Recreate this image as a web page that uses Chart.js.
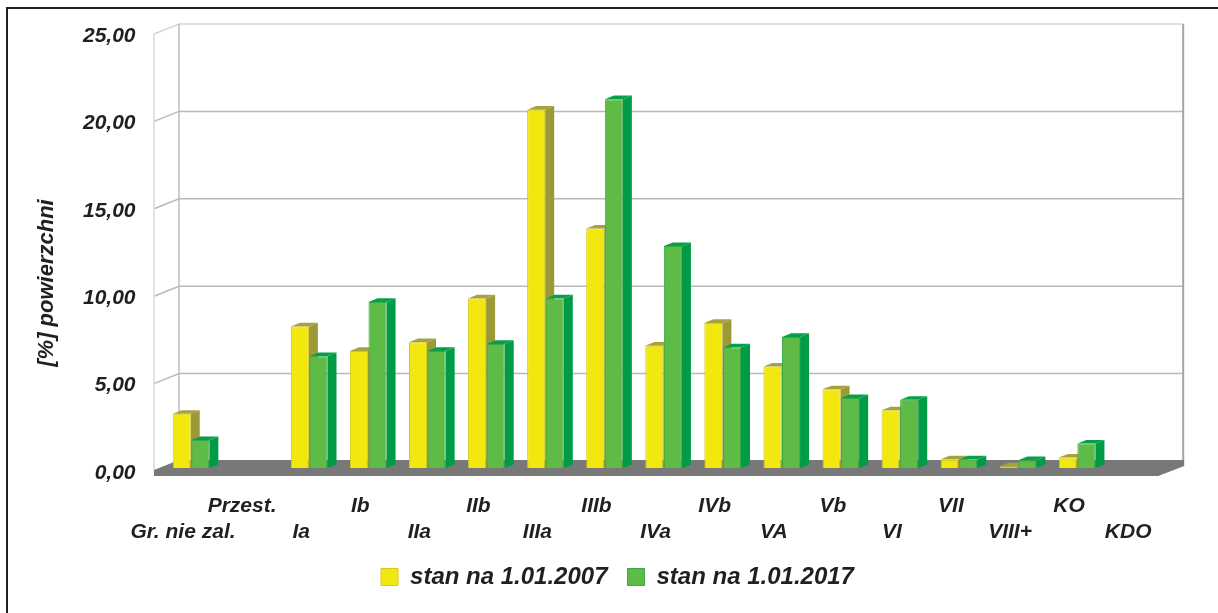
<!DOCTYPE html>
<html>
<head>
<meta charset="utf-8">
<script src="https://cdn.jsdelivr.net/npm/chart.js@4.4.1/dist/chart.umd.min.js"></script>
<style>
  html, body { margin: 0; padding: 0; background: #ffffff; }
  #wrap { width: 1218px; height: 613px; position: relative; }
  canvas { display: block; }
</style>
</head>
<body>
<div id="wrap"><canvas id="c" width="1218" height="613"></canvas></div>
<script>
// ---- data ----
const categories = ['Gr. nie zal.', 'Przest.', 'Ia', 'Ib', 'IIa', 'IIb', 'IIIa', 'IIIb', 'IVa', 'IVb', 'VA', 'Vb', 'VI', 'VII', 'VIII+', 'KO', 'KDO'];
const values2007 = [3.1, null, 8.1, 6.7, 7.2, 9.7, 20.5, 13.7, 7.0, 8.3, 5.8, 4.5, 3.3, 0.5, 0.1, 0.6, null];
const values2017 = [1.6, null, 6.4, 9.5, 6.7, 7.1, 9.7, 21.1, 12.7, 6.9, 7.5, 4.0, 3.9, 0.5, 0.45, 1.4, null];
const seriesNames = ['stan na 1.01.2007', 'stan na 1.01.2017'];
const yTicks = [0, 5, 10, 15, 20, 25];
const yTitle = '[%] powierzchni';

// ---- styles ----
const FONT = '"Liberation Sans", Arial, sans-serif';
const TEXT = '#231f20';
const frontColors = ['#f2e80f', '#5dbb46'];
const borderColors = ['#d4c81c', '#3aa846'];
const sideColors = ['#9c9a36', '#009b45'];
const topColors = ['#a7a23b', '#07a04a'];

// two-row staggered category labels
const xLabels = categories.map((c, i) => (i % 2 ? [c, ''] : ['', c]));

const DEPTH = { x: 25, y: -10 };
const BACK = { x: DEPTH.x * 0.7, y: DEPTH.y * 0.7 };
const FRONT = { x: -DEPTH.x * 0.3, y: -DEPTH.y * 0.3 };
const BAR_D = { x: 9, y: -3.6 };

function poly(ctx, pts) {
  ctx.beginPath();
  ctx.moveTo(pts[0][0], pts[0][1]);
  for (let i = 1; i < pts.length; i++) ctx.lineTo(pts[i][0], pts[i][1]);
  ctx.closePath();
  ctx.fill();
}

const threeD = {
  id: 'threeD',
  beforeDatasetsDraw(chart) {
    const { ctx, chartArea: { left, right, bottom }, scales: { y } } = chart;
    const topPx = y.getPixelForValue(yTicks[yTicks.length - 1]);
    ctx.save();
    // back wall gridlines + left wall diagonals
    ctx.lineWidth = 1.5;
    yTicks.forEach(v => {
      if (v === 0) return;
      const py = y.getPixelForValue(v);
      ctx.strokeStyle = v === yTicks[yTicks.length - 1] ? '#d6d6d6' : '#b9b9b9';
      ctx.beginPath();
      ctx.moveTo(left + FRONT.x, py + FRONT.y);
      ctx.lineTo(left + BACK.x, py + BACK.y);
      ctx.lineTo(right + BACK.x, py + BACK.y);
      ctx.stroke();
    });
    // verticals
    ctx.strokeStyle = '#dadada';
    ctx.beginPath();
    ctx.moveTo(left + FRONT.x, topPx + FRONT.y);
    ctx.lineTo(left + FRONT.x, bottom + FRONT.y);
    ctx.stroke();
    ctx.strokeStyle = '#bcbcbc';
    ctx.beginPath();
    ctx.moveTo(left + BACK.x, topPx + BACK.y);
    ctx.lineTo(left + BACK.x, bottom + BACK.y);
    ctx.stroke();
    ctx.strokeStyle = '#a4a4a4';
    ctx.lineWidth = 2;
    ctx.beginPath();
    ctx.moveTo(right + BACK.x, topPx + BACK.y);
    ctx.lineTo(right + BACK.x, bottom + BACK.y);
    ctx.stroke();
    // floor
    ctx.fillStyle = '#787878';
    poly(ctx, [
      [left + BACK.x, bottom + BACK.y - 1],
      [right + BACK.x + 1, bottom + BACK.y - 1],
      [right + BACK.x + 1, bottom + BACK.y + 5],
      [right + FRONT.x, bottom + FRONT.y + 5],
      [left + FRONT.x, bottom + FRONT.y + 5],
      [left + FRONT.x, bottom + FRONT.y - 1]
    ]);
    // bar sides and tops
    chart.data.datasets.forEach((ds, di) => {
      const meta = chart.getDatasetMeta(di);
      meta.data.forEach((bar, i) => {
        if (ds.data[i] == null) return;
        const p = bar.getProps(['x', 'y', 'base', 'width'], true);
        const l = p.x - p.width / 2, r = p.x + p.width / 2;
        ctx.fillStyle = sideColors[di];
        poly(ctx, [[r, p.y], [r + BAR_D.x, p.y + BAR_D.y], [r + BAR_D.x, p.base + BAR_D.y], [r, p.base]]);
        ctx.fillStyle = topColors[di];
        poly(ctx, [[l, p.y], [l + BAR_D.x, p.y + BAR_D.y], [r + BAR_D.x, p.y + BAR_D.y], [r, p.y]]);
      });
    });
    ctx.restore();
  },
  afterDraw(chart) {
    const { ctx } = chart;
    ctx.save();
    // frame
    ctx.strokeStyle = '#231f20';
    ctx.lineWidth = 2;
    ctx.beginPath();
    ctx.moveTo(7, 613);
    ctx.lineTo(7, 8);
    ctx.lineTo(1218, 8);
    ctx.stroke();
    // y title
    ctx.translate(47, 283);
    ctx.rotate(-Math.PI / 2);
    ctx.fillStyle = TEXT;
    ctx.font = 'italic bold 22px ' + FONT;
    ctx.textAlign = 'center';
    ctx.textBaseline = 'middle';
    ctx.fillText(yTitle, 0, 0);
    ctx.restore();
  }
};

new Chart(document.getElementById('c'), {
  type: 'bar',
  data: {
    labels: xLabels,
    datasets: [
      { label: seriesNames[0], data: values2007, backgroundColor: frontColors[0], borderColor: borderColors[0], borderWidth: 1 },
      { label: seriesNames[1], data: values2017, backgroundColor: frontColors[1], borderColor: borderColors[1], borderWidth: 1 }
    ]
  },
  options: {
    responsive: false,
    animation: false,
    devicePixelRatio: 1,
    layout: { padding: { left: 69.3, right: 52.3, top: 31, bottom: 14 } },
    datasets: { bar: { categoryPercentage: 0.63, barPercentage: 0.97 } },
    plugins: {
      tooltip: { enabled: false },
      legend: {
        position: 'bottom',
        labels: {
          boxWidth: 17, boxHeight: 17, padding: 20, color: TEXT,
          font: { family: FONT, size: 24, style: 'italic', weight: 'bold' }
        }
      }
    },
    scales: {
      x: {
        grid: { display: false, drawTicks: false },
        border: { display: false },
        ticks: {
          autoSkip: false, maxRotation: 0, minRotation: 0, padding: 25, labelOffset: -8, color: TEXT,
          font: { family: FONT, size: 21, style: 'italic', weight: 'bold', lineHeight: 1.25 }
        },
        afterFit(s) { s.height = 77; s.paddingLeft = 0; s.paddingRight = 0; }
      },
      y: {
        min: 0, max: 25,
        grid: { display: false, drawTicks: false },
        border: { display: false },
        afterBuildTicks(s) { s.ticks = yTicks.map(v => ({ value: v })); },
        ticks: {
          padding: 26, labelOffset: 5, color: TEXT,
          font: { family: FONT, size: 21, style: 'italic', weight: 'bold' },
          callback: v => v.toFixed(2).replace('.', ',')
        },
        afterFit(s) { s.width = 92.2; s.paddingTop = 0; s.paddingBottom = 0; }
      }
    }
  },
  plugins: [threeD]
});
</script>
</body>
</html>
